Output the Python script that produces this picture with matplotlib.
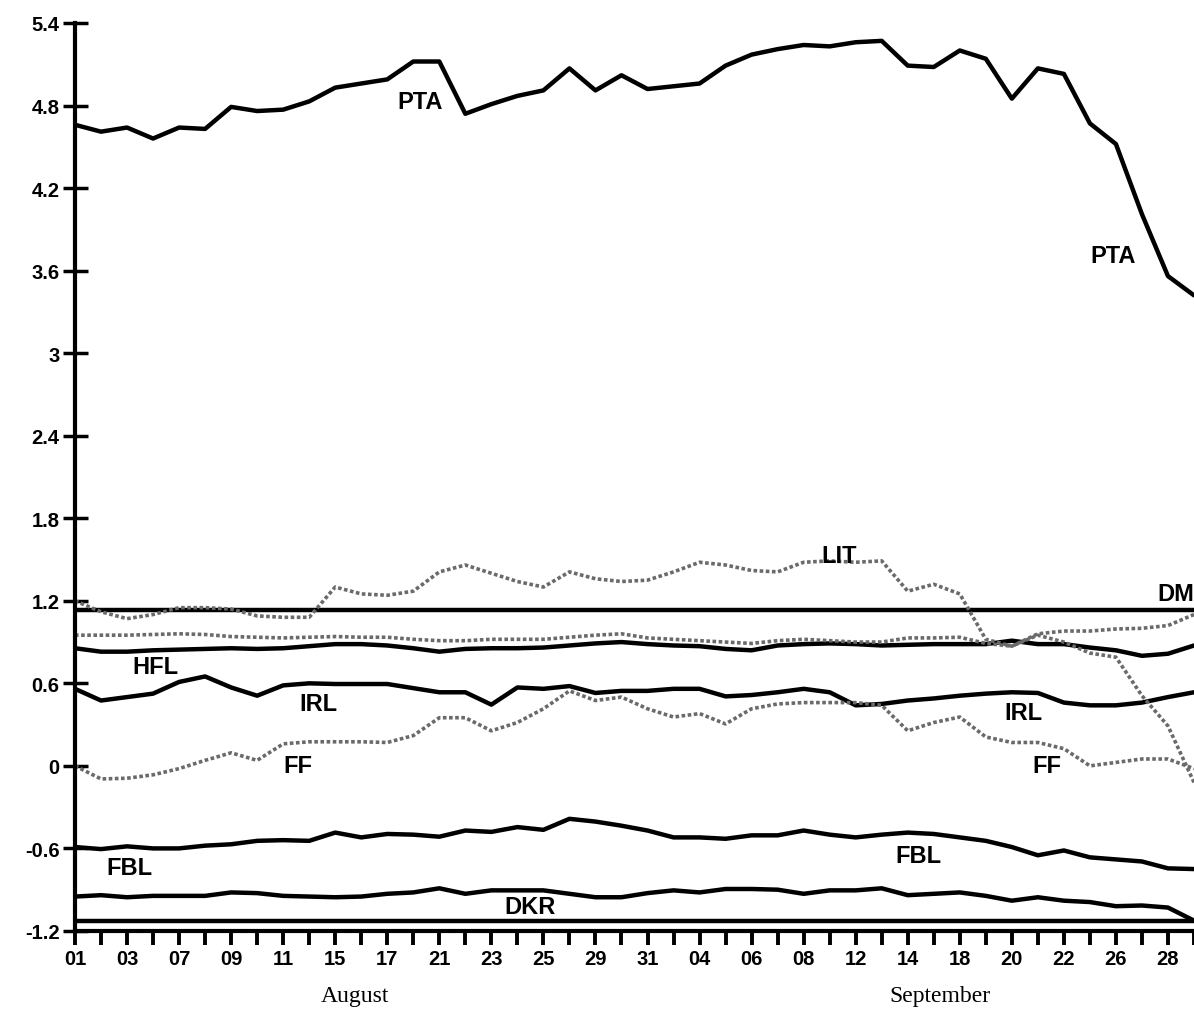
import numpy as np
import matplotlib
matplotlib.use('Agg')
import matplotlib.pyplot as plt

# day labels on the x axis (Aug 01 .. Sep 28), series sampled every half label step
day_labels = ['01', '03', '07', '09', '11', '15', '17', '21', '23', '25', '29',
              '31', '04', '06', '08', '12', '14', '18', '20', '22', '26', '28']
pos = np.arange(44) * 0.5

PTA = [4.66, 4.61, 4.64, 4.56, 4.64, 4.63, 4.79, 4.76, 4.77, 4.83, 4.93,
       4.96, 4.99, 5.12, 5.12, 4.74, 4.81, 4.87, 4.91, 5.07, 4.91, 5.02,
       4.92, 4.94, 4.96, 5.09, 5.17, 5.21, 5.24, 5.23, 5.26, 5.27, 5.09,
       5.08, 5.20, 5.14, 4.85, 5.07, 5.03, 4.67, 4.52, 4.01, 3.56, 3.42]
LIT = [1.20, 1.12, 1.07, 1.10, 1.15, 1.15, 1.14, 1.09, 1.08, 1.08, 1.30,
       1.25, 1.24, 1.27, 1.41, 1.46, 1.40, 1.34, 1.30, 1.41, 1.36, 1.34,
       1.35, 1.41, 1.48, 1.46, 1.42, 1.41, 1.48, 1.49, 1.48, 1.49, 1.27,
       1.32, 1.25, 0.92, 0.87, 0.95, 0.90, 0.82, 0.79, 0.51, 0.29, -0.12]
DOT2 = [0.95, 0.95, 0.95, 0.955, 0.96, 0.955, 0.94, 0.935, 0.93, 0.935, 0.94,
        0.935, 0.935, 0.92, 0.91, 0.91, 0.92, 0.92, 0.92, 0.935, 0.95, 0.96,
        0.93, 0.92, 0.91, 0.90, 0.89, 0.91, 0.92, 0.91, 0.90, 0.90, 0.93,
        0.93, 0.935, 0.89, 0.87, 0.96, 0.98, 0.98, 0.995, 1.0, 1.02, 1.10]
HFL = [0.855, 0.83, 0.83, 0.84, 0.845, 0.85, 0.855, 0.85, 0.855, 0.87, 0.885,
       0.885, 0.875, 0.855, 0.83, 0.85, 0.855, 0.855, 0.86, 0.875, 0.89, 0.90,
       0.885, 0.875, 0.87, 0.85, 0.84, 0.875, 0.885, 0.89, 0.885, 0.875, 0.88,
       0.885, 0.885, 0.885, 0.91, 0.885, 0.885, 0.86, 0.84, 0.80, 0.815, 0.875]
IRL = [0.56, 0.475, 0.50, 0.525, 0.61, 0.65, 0.57, 0.51, 0.585, 0.60, 0.595,
       0.595, 0.595, 0.565, 0.535, 0.535, 0.445, 0.57, 0.56, 0.58, 0.53, 0.545,
       0.545, 0.56, 0.56, 0.505, 0.515, 0.535, 0.56, 0.535, 0.44, 0.45, 0.475,
       0.49, 0.51, 0.525, 0.535, 0.53, 0.46, 0.44, 0.44, 0.46, 0.50, 0.535]
FF = [0.0, -0.095, -0.09, -0.065, -0.02, 0.04, 0.095, 0.04, 0.16, 0.175, 0.175,
      0.175, 0.17, 0.22, 0.35, 0.35, 0.255, 0.315, 0.415, 0.545, 0.475, 0.50,
      0.415, 0.355, 0.38, 0.305, 0.415, 0.45, 0.46, 0.46, 0.46, 0.44, 0.255,
      0.315, 0.355, 0.21, 0.17, 0.17, 0.125, 0.0, 0.025, 0.05, 0.05, -0.02]
FBL = [-0.59, -0.605, -0.585, -0.60, -0.60, -0.58, -0.57, -0.545, -0.54, -0.545, -0.485,
       -0.52, -0.495, -0.50, -0.515, -0.47, -0.48, -0.445, -0.465, -0.385, -0.405, -0.435,
       -0.47, -0.52, -0.52, -0.53, -0.505, -0.505, -0.47, -0.50, -0.52, -0.50, -0.485,
       -0.495, -0.52, -0.545, -0.59, -0.65, -0.615, -0.665, -0.68, -0.695, -0.745, -0.75]
DKR = [-0.95, -0.94, -0.955, -0.945, -0.945, -0.945, -0.92, -0.925, -0.945, -0.95, -0.955,
       -0.95, -0.93, -0.92, -0.89, -0.93, -0.905, -0.905, -0.905, -0.93, -0.955, -0.955,
       -0.925, -0.905, -0.92, -0.895, -0.895, -0.90, -0.93, -0.905, -0.905, -0.89, -0.94,
       -0.93, -0.92, -0.945, -0.98, -0.955, -0.98, -0.99, -1.02, -1.015, -1.03, -1.125]
DM_level = 1.13
BASE_level = -1.13

yticks = [5.4, 4.8, 4.2, 3.6, 3, 2.4, 1.8, 1.2, 0.6, 0, -0.6, -1.2]
ylabels = ['5.4', '4.8', '4.2', '3.6', '3', '2.4', '1.8', '1.2', '0.6', '0', '-0.6', '-1.2']

# label text, x (in half steps), y
labels = [('PTA', 13.27, 4.83), ('PTA', 39.9, 3.71), ('LIT', 29.35, 1.53),
          ('HFL', 3.08, 0.72), ('IRL', 9.35, 0.45), ('IRL', 36.46, 0.39),
          ('FF', 8.58, 0.0), ('FF', 37.35, 0.0), ('FBL', 2.1, -0.74),
          ('FBL', 32.4, -0.65), ('DKR', 17.5, -1.02)]

fig = plt.figure(figsize=(11.94, 10.12), dpi=100)
ax = fig.add_axes([0.0628, 0.0791, 0.9372, 0.8972])
ax.set_xlim(0, 21.5)
ax.set_ylim(-1.2, 5.4)

solid = dict(color='black', lw=3.2, solid_capstyle='round', solid_joinstyle='round')
dotted = dict(color='#6a6a6a', lw=2.6, ls=(0, (1, 0.7)))

ax.plot(pos, PTA, **solid)
ax.plot(pos, HFL, **solid)
ax.plot(pos, IRL, **solid)
ax.plot(pos, FBL, **solid)
ax.plot(pos, DKR, **solid)
ax.axhline(DM_level, color='black', lw=3.2)
ax.axhline(BASE_level, color='black', lw=3.2)
ax.plot(pos, LIT, **dotted)
ax.plot(pos, DOT2, **dotted)
ax.plot(pos, FF, **dotted)

lab = dict(fontsize=17, fontweight='bold', family='Liberation Sans',
           ha='center', va='center')
for txt, xk, yv in labels:
    ax.text(xk / 2, yv, txt, **lab)
ax.text(21.5, 1.25, 'DM', clip_on=False, fontsize=17, fontweight='bold',
        family='Liberation Sans', ha='right', va='center')

for s in ['top', 'right']:
    ax.spines[s].set_visible(False)
for s in ['left', 'bottom']:
    ax.spines[s].set_linewidth(3)

ax.set_yticks(yticks)
ax.set_yticklabels(ylabels)
ax.tick_params(axis='y', direction='inout', length=18, width=2.5, pad=2)
ax.set_xticks(np.arange(len(day_labels)))
ax.set_xticklabels(day_labels)
ax.set_xticks(np.arange(len(day_labels)) + 0.5, minor=True)
ax.tick_params(axis='x', which='both', direction='out', length=10, width=2.8, pad=3)
for t in ax.get_xticklabels() + ax.get_yticklabels():
    t.set_fontweight('bold')
    t.set_fontsize(14.5)
    t.set_family('Liberation Sans')

fig.text(355 / 1194, 1 - 997 / 1012, 'August', family='Liberation Serif',
         fontsize=17, ha='center', va='center')
fig.text(940 / 1194, 1 - 997 / 1012, 'September', family='Liberation Serif',
         fontsize=17, ha='center', va='center')

fig.savefig('out.png', dpi=100)
